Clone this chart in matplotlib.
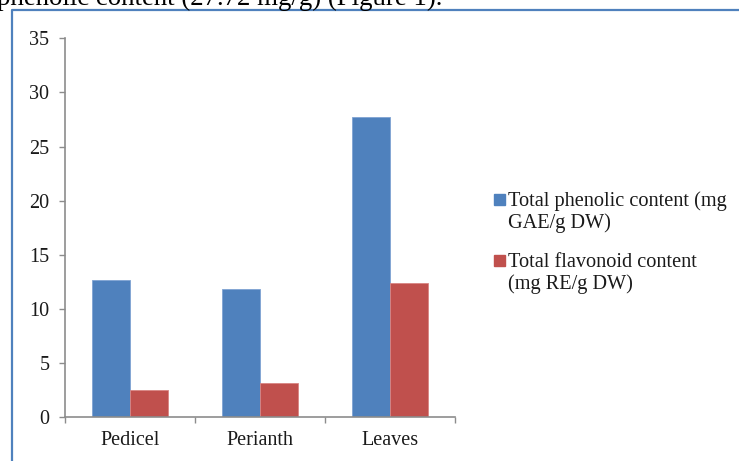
import matplotlib
matplotlib.use("Agg")
import matplotlib.pyplot as plt
from matplotlib.patches import Rectangle
from matplotlib.lines import Line2D
import numpy as np

plt.rcParams['font.family'] = ['Liberation Serif', 'DejaVu Serif']

categories = ['Pedicel', 'Perianth', 'Leaves']
phenolic = [12.67, 11.86, 27.72]
flavonoid = [2.49, 3.16, 12.42]
series_labels = [['Total phenolic content (mg', 'GAE/g DW)'],
                 ['Total flavonoid content', '(mg RE/g DW)']]
colors = ['#4F81BD', '#C0504D']
yticks = [0, 5, 10, 15, 20, 25, 30, 35]

W, H = 739, 461
fig = plt.figure(figsize=(W / 100, H / 100), dpi=100)
ax = fig.add_axes([65 / W, 1 - 417.3 / H, 390 / W, (417.3 - 38.3) / H])

x = np.arange(len(categories))
bw = 0.29
ax.bar(x - bw / 2, phenolic, bw, color=colors[0], edgecolor='#7FA3D3', linewidth=0.6)
ax.bar(x + bw / 2, flavonoid, bw, color=colors[1], edgecolor='#D88583', linewidth=0.6)

ax.set_xlim(-0.5, 2.5)
ax.set_ylim(0, 35)
ax.set_yticks(yticks)
ax.set_xticks(x)
ax.set_xticklabels(categories)
ax.set_xticks(np.arange(-0.5, 3, 1), minor=True)

for s in ['top', 'right']:
    ax.spines[s].set_visible(False)
for s in ['left', 'bottom']:
    ax.spines[s].set_color('#8C8C8C')
    ax.spines[s].set_linewidth(1.2)

ax.tick_params(axis='y', length=4.3, width=1.0, color='#8C8C8C', pad=7,
               labelsize=14.5, labelcolor='#1a1a1a')
ax.tick_params(axis='x', which='major', length=0, pad=10,
               labelsize=14.5, labelcolor='#1a1a1a')
ax.tick_params(axis='x', which='minor', length=4.3, width=1.0, color='#8C8C8C')

# legend drawn by hand so the square sits on the first line
entry_y = [206, 267]
for c, lines, by in zip(colors, series_labels, entry_y):
    fig.add_artist(Rectangle((494 / W, 1 - (by - 1) / H), 11 / W, 11 / H,
                             transform=fig.transFigure, color=c))
    for i, t in enumerate(lines):
        fig.text(508 / W, 1 - (by + 22 * i) / H, t, fontsize=14.6,
                 va='baseline', ha='left', color='#1a1a1a')

# frame of the page figure box and cut-off caption above it
fig.add_artist(Line2D([11.5 / W, 11.5 / W, 1], [0, 1 - 10.5 / H, 1 - 10.5 / H],
                      transform=fig.transFigure, color='#4F81BD', linewidth=1.6))
fig.text(-3 / W, 1 - 5 / H, 'phenolic content (27.72 mg/g) (Figure 1).',
         fontsize=19.4, va='baseline', ha='left', color='black')

fig.savefig('out.png', dpi=100)
